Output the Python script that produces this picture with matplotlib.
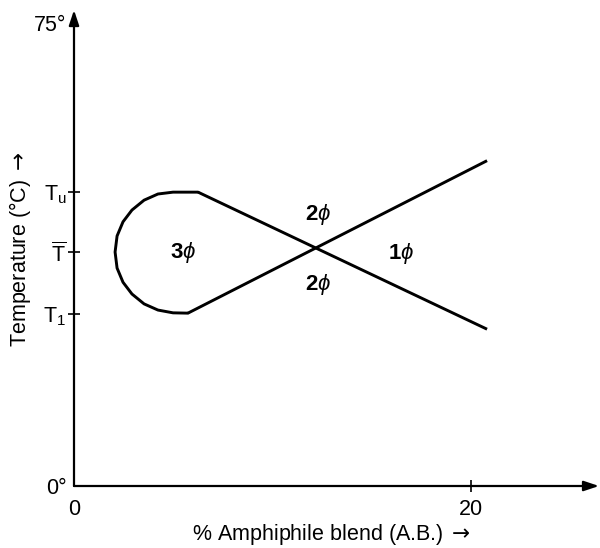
import matplotlib.pyplot as plt
import numpy as np

plt.rcParams['font.family'] = ['Liberation Sans', 'DejaVu Sans']
plt.rcParams['mathtext.fontset'] = 'custom'
plt.rcParams['mathtext.rm'] = 'Liberation Sans'
plt.rcParams['mathtext.it'] = 'Liberation Sans:italic'
plt.rcParams['mathtext.bf'] = 'Liberation Sans:bold'
plt.rcParams['mathtext.sf'] = 'DejaVu Sans'

# reference temperatures (deg C)
T_upper = 47.7
T_bar = 37.9
T_lower = 27.9

# three-phase loop boundary (% A.B., temperature)
loop_x = [6.25, 4.99, 4.23, 3.53, 2.92, 2.47, 2.17, 2.07, 2.17, 2.47, 2.92, 3.53, 4.23, 4.99, 5.74]
loop_y = [47.6, 47.6, 47.3, 46.3, 44.7, 42.8, 40.5, 37.9, 35.3, 33.0, 31.1, 29.5, 28.5, 28.05, 28.0]

# two straight boundaries leaving the loop and crossing
upper_x = [6.25, 20.81]
upper_y = [47.6, 25.4]
lower_x = [5.74, 20.81]
lower_y = [28.0, 52.7]

# phase labels
phase_text = [r'$\mathbf{3}\mathit{\phi}$', r'$\mathbf{2}\mathit{\phi}$',
              r'$\mathbf{2}\mathit{\phi}$', r'$\mathbf{1}\mathit{\phi}$']
phase_x = [5.5, 12.3, 12.3, 16.5]
phase_y = [37.9, 43.9, 32.6, 37.6]

fig = plt.figure(figsize=(6, 5.48), dpi=100)
ax = fig.add_axes([74 / 600, 62 / 548, 525 / 600, 463 / 548])

ax.plot(loop_x, loop_y, color='black', lw=2.1, solid_joinstyle='round', solid_capstyle='round')
ax.plot(upper_x, upper_y, color='black', lw=2.1, solid_capstyle='butt')
ax.plot(lower_x, lower_y, color='black', lw=2.1, solid_capstyle='butt')

for t, x, y in zip(phase_text, phase_x, phase_y):
    ax.text(x, y, t, ha='center', va='center', fontsize=16)

ax.set_xlim(0, 26.45)
ax.set_ylim(0, 75)

for s in ['top', 'right', 'left', 'bottom']:
    ax.spines[s].set_visible(False)

# axes with arrow heads
ax.annotate('', xy=(1.0, 0), xytext=(0, 0), xycoords='axes fraction',
            arrowprops=dict(arrowstyle='-|>,head_length=0.9,head_width=0.3', color='black', lw=1.6,
                            shrinkA=0, shrinkB=0))
ax.annotate('', xy=(0, 1.028), xytext=(0, 0), xycoords='axes fraction',
            arrowprops=dict(arrowstyle='-|>,head_length=0.9,head_width=0.3', color='black', lw=1.6,
                            shrinkA=0, shrinkB=0))

ax.set_yticks([0, T_lower, T_bar, T_upper, 75])
ax.set_yticklabels(['0°', r'T$_1$', r'$\overline{\mathrm{T}}$', r'T$_\mathrm{u}$', '75°'])
ax.set_xticks([0, 20])
ax.set_xticklabels(['0', '20'])
ax.tick_params(axis='both', direction='inout', length=9, width=1.2, labelsize=15.5)
ax.tick_params(axis='y', pad=1)
ax.tick_params(axis='x', pad=5)
ax.yaxis.get_major_ticks()[0].tick1line.set_visible(False)
ax.yaxis.get_major_ticks()[-1].tick1line.set_visible(False)
ax.xaxis.get_major_ticks()[0].tick1line.set_visible(False)

ax.set_ylabel(r'Temperature (°C)$\;\mathsf{\rightarrow}$', fontsize=15.5)
ax.yaxis.set_label_coords(-0.078, 0.51)
ax.set_xlabel(r'% Amphiphile blend (A.B.)$\;\mathsf{\rightarrow}$', fontsize=15.5)
ax.xaxis.set_label_coords(0.49, -0.078)

fig.savefig('out.png', dpi=100)
